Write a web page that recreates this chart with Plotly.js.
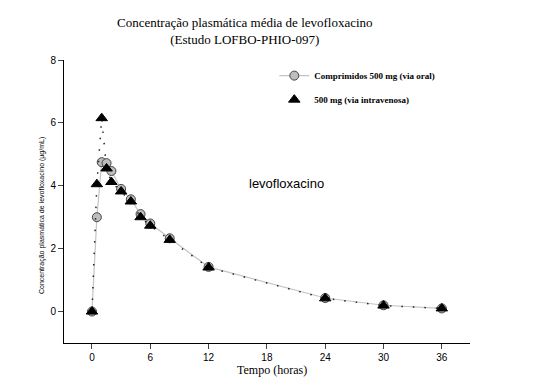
<!DOCTYPE html>
<html>
<head>
<meta charset="utf-8">
<script src="https://cdn.plot.ly/plotly-3.0.1.min.js"></script>
<style>html,body{margin:0;padding:0;background:#fff;}#chart{width:559px;height:390px;}</style>
</head>
<body>
<div id="chart"></div>
<script>
var time = [0, 0.5, 1, 1.5, 2, 3, 4, 5, 6, 8, 12, 24, 30, 36];
var oralConc = [0, 3.0, 4.75, 4.72, 4.47, 3.9, 3.57, 3.1, 2.8, 2.33, 1.42, 0.43, 0.2, 0.1];
var ivConc = [0, 4.05, 6.15, 4.55, 4.12, 3.82, 3.5, 3.0, 2.73, 2.28, 1.4, 0.42, 0.19, 0.1];
var xTicks = [0, 6, 12, 18, 24, 30, 36];
var yTicks = [0, 2, 4, 6, 8];
var oralName = "Comprimidos 500 mg (via oral)";
var ivName = "500 mg (via intravenosa)";

var serif = "Liberation Serif, Times New Roman, serif";
var sans = "Liberation Sans, Arial, sans-serif";

var traces = [
  {x: time, y: oralConc, mode: "lines+markers", name: oralName, legendgroup: "oral",
   line: {color: "#c4c4c4", width: 1.2},
   marker: {symbol: "circle", size: 9, color: "#bdbdbd", line: {color: "#444", width: 1}}},
  {x: time, y: ivConc, mode: "lines", showlegend: false, legendgroup: "iv",
   line: {color: "#222", width: 1.5, dash: "1.5px,10px"}},
  {x: time, y: ivConc, mode: "markers", name: ivName, legendgroup: "iv",
   marker: {symbol: "triangle-up", size: 10, color: "#000", line: {color: "#000", width: 1}}}
];

var layout = {
  width: 559, height: 390,
  margin: {l: 64, r: 89, t: 60, b: 47},
  paper_bgcolor: "#fff", plot_bgcolor: "#fff",
  showlegend: true,
  title: {text: "Concentração plasmática média de levofloxacino<br>(Estudo LOFBO-PHIO-097)",
          font: {family: serif, size: 13, color: "#000"},
          x: 0.438, xanchor: "center", y: 0.93, yanchor: "middle"},
  xaxis: {range: [-2.88, 38.9], tickvals: xTicks, ticks: "outside", ticklen: 5,
          showgrid: false, zeroline: false, showline: true, linecolor: "#000", linewidth: 1,
          tickfont: {family: sans, size: 10, color: "#000"}},
  yaxis: {range: [-1, 8], tickvals: yTicks, ticks: "outside", ticklen: 5,
          showgrid: false, zeroline: false, showline: true, linecolor: "#000", linewidth: 1,
          tickfont: {family: sans, size: 10, color: "#000"}},
  legend: {x: 0.518, y: 0.996, xanchor: "left", yanchor: "top", bgcolor: "rgba(0,0,0,0)",
           traceorder: "grouped", tracegroupgap: 5,
           font: {family: serif, size: 9, color: "#000", weight: "bold"}},
  annotations: [
    {text: "levofloxacino", x: 20.06, y: 4.06, xref: "x", yref: "y", showarrow: false,
     font: {family: sans, size: 13, color: "#000"}},
    {text: "Concentração plasmática de levofloxacino (µg/mL)", xref: "paper", yref: "paper",
     x: -0.069, y: 0.452, textangle: -90, showarrow: false,
     font: {family: sans, size: 7, color: "#000"}},
    {text: "Tempo (horas)", xref: "paper", yref: "paper", x: 0.512, y: -0.127,
     showarrow: false, font: {family: serif, size: 12, color: "#000"}}
  ]
};

Plotly.newPlot("chart", traces, layout, {displayModeBar: false, staticPlot: true});
</script>
</body>
</html>
